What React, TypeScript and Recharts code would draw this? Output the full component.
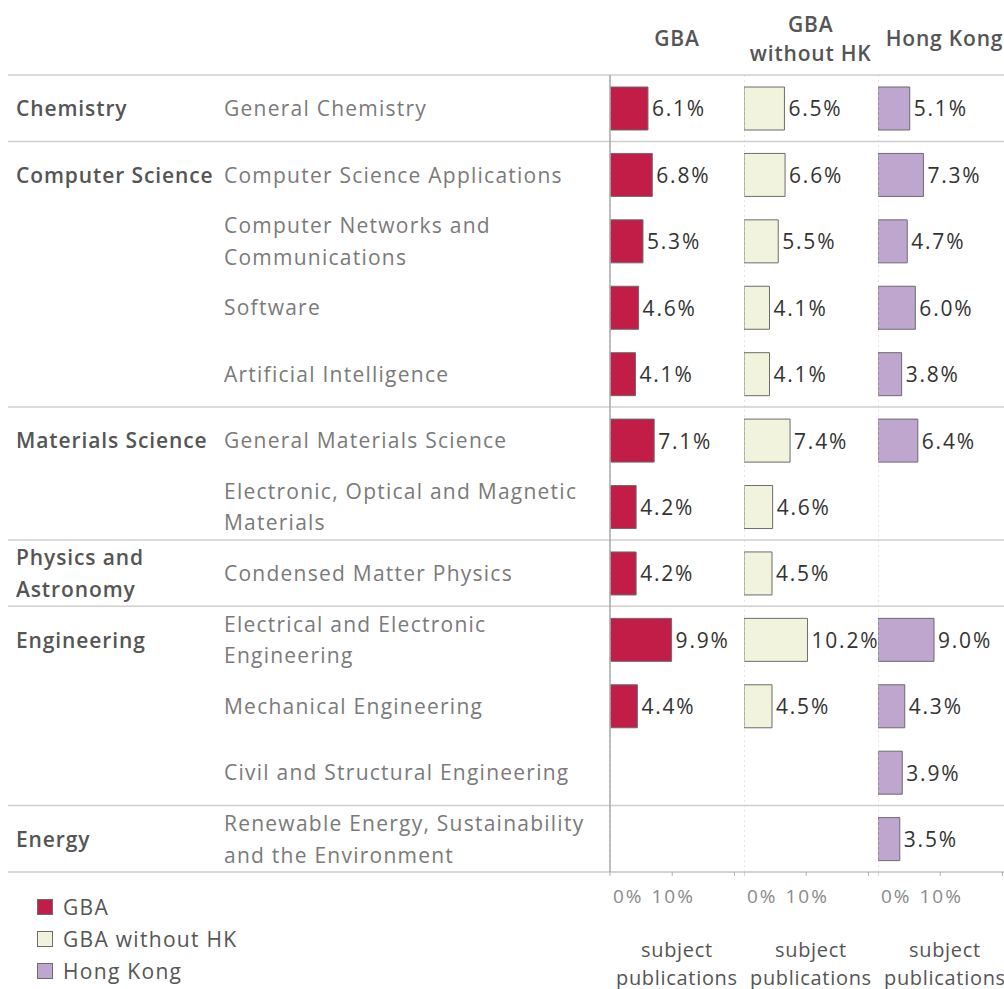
import React from "react";
import {
  BarChart,
  Bar,
  XAxis,
  YAxis,
  LabelList,
  ReferenceLine,
} from "recharts";

// categories (a "\n" marks where the label wraps)
const subjects = [
  "General Chemistry",
  "Computer Science Applications",
  "Computer Networks and\nCommunications",
  "Software",
  "Artificial Intelligence",
  "General Materials Science",
  "Electronic, Optical and Magnetic\nMaterials",
  "Condensed Matter Physics",
  "Electrical and Electronic\nEngineering",
  "Mechanical Engineering",
  "Civil and Structural Engineering",
  "Renewable Energy, Sustainability\nand the Environment",
];
const groups = [
  "Chemistry",
  "Computer Science",
  "Computer Science",
  "Computer Science",
  "Computer Science",
  "Materials Science",
  "Materials Science",
  "Physics and\nAstronomy",
  "Engineering",
  "Engineering",
  "Engineering",
  "Energy",
];

// share of subject publications, %
const gba = [6.1, 6.8, 5.3, 4.6, 4.1, 7.1, 4.2, 4.2, 9.9, 4.4, null, null];
const gbaWithoutHK = [6.5, 6.6, 5.5, 4.1, 4.1, 7.4, 4.6, 4.5, 10.2, 4.5, null, null];
const hongKong = [5.1, 7.3, 4.7, 6.0, 3.8, 6.4, null, null, 9.0, 4.3, 3.9, 3.5];

const seriesNames = ["GBA", "GBA without HK", "Hong Kong"];
const seriesKeys = ["gba", "gbaWithoutHK", "hongKong"];
const seriesColors = ["#C11D47", "#F1F3DC", "#BEA6CE"];
const xTicks = [0, 10, 20];
const headerLines = [["GBA"], ["GBA", "without HK"], ["Hong Kong"]];

const rows = subjects.map((s, i) => ({
  subject: s,
  group: groups[i],
  gba: gba[i],
  gbaWithoutHK: gbaWithoutHK[i],
  hongKong: hongKong[i],
}));

const FONT = "'Open Sans', sans-serif";
const TOP = 75;
const ROW_H = 66.42;
const PLOT_H = ROW_H * rows.length;
const LABEL_W = 610;
const PANEL_W = 133.8;
const TOTAL_H = 989;
const LINE_GAP = 31.5;

const fmt = (v: any) => (v == null ? "" : `${Number(v).toFixed(1)}%`);

const RowTick = (props: any) => {
  const { y, payload } = props;
  const idx = subjects.indexOf(payload.value);
  const first = idx === 0 || groups[idx - 1] !== groups[idx];
  const gLines = groups[idx].split("\n");
  const sLines = subjects[idx].split("\n");
  return (
    <g fontFamily={FONT} fontSize={21}>
      {first &&
        gLines.map((t, i) => (
          <text
            key={"g" + i}
            x={16}
            y={y + (i - (gLines.length - 1) / 2) * LINE_GAP}
            dominantBaseline="central"
            fontWeight={600}
            fill="#555"
            letterSpacing={0.9}
          >
            {t}
          </text>
        ))}
      {sLines.map((t, i) => (
        <text
          key={"s" + i}
          x={224}
          y={y + (i - (sLines.length - 1) / 2) * LINE_GAP}
          dominantBaseline="central"
          fill="#7a7a7a"
          letterSpacing={1.25}
        >
          {t}
        </text>
      ))}
    </g>
  );
};

const PctTick = (props: any) => {
  const { x, y, payload } = props;
  if (payload.value >= 20) return <g />;
  return (
    <text
      x={payload.value === 0 ? x + 3 : x + 1}
      y={y + 18}
      dominantBaseline="central"
      textAnchor={payload.value === 0 ? "start" : "middle"}
      fontSize={19}
      letterSpacing={2}
      fill="#8a8a8a"
      fontFamily={FONT}
    >
      {payload.value}%
    </text>
  );
};

const ValueLabel = (props: any) => {
  const { x, y, width, height, value } = props;
  if (value == null) return null;
  return (
    <text
      x={x + width + 4}
      y={y + height / 2}
      dominantBaseline="central"
      fontSize={21}
      letterSpacing={1.8}
      fill="#333"
      fontFamily={FONT}
    >
      {fmt(value)}
    </text>
  );
};

const AxisTitle = (props: any) => {
  const { viewBox } = props;
  const cx = viewBox.x + viewBox.width / 2;
  return (
    <g fontFamily={FONT} fontSize={20} fill="#555" textAnchor="middle" letterSpacing={0.7}>
      <text x={cx} y={950} dominantBaseline="central">subject</text>
      <text x={cx} y={978} dominantBaseline="central">publications</text>
    </g>
  );
};

const Panel = ({ k, i }: { k: string; i: number }) => {
  const first = i === 0;
  return (
    <BarChart
      width={first ? LABEL_W + PANEL_W : PANEL_W}
      height={TOTAL_H}
      data={rows}
      layout="vertical"
      margin={{ top: TOP, right: 0, bottom: 0, left: 0 }}
      style={{ overflow: "visible" }}
    >
      <XAxis
        type="number"
        domain={[0, 21.5]}
        ticks={xTicks}
        allowDataOverflow
        height={TOTAL_H - TOP - PLOT_H}
        tickSize={4}
        tickLine={{ stroke: "#b0b0b0" }}
        axisLine={{ stroke: "#cfcfcf", strokeWidth: 1.5 }}
        tick={<PctTick />}
        interval={0}
        label={{ content: <AxisTitle /> }}
      />
      <YAxis
        type="category"
        dataKey="subject"
        width={first ? LABEL_W : 0}
        hide={!first}
        tickLine={false}
        axisLine={{ stroke: "#aaa", strokeWidth: 1.5 }}
        tick={<RowTick />}
        interval={0}
      />
      <ReferenceLine x={0} stroke="#ccc" strokeDasharray="2 3" />
      <Bar
        dataKey={k}
        fill={seriesColors[i]}
        stroke="#6b6b6b"
        strokeWidth={1}
        barSize={43}
        isAnimationActive={false}
      >
        <LabelList dataKey={k} content={<ValueLabel />} />
      </Bar>
    </BarChart>
  );
};

export default function App() {
  // group separator lines sit where a new group starts
  const seps = [0];
  groups.forEach((g, i) => {
    if (i > 0 && groups[i - 1] !== g) seps.push(i);
  });
  seps.push(rows.length);

  return (
    <div
      style={{
        position: "absolute",
        left: 0,
        top: 0,
        width: 1004,
        height: TOTAL_H,
        overflow: "hidden",
        background: "#fff",
        fontFamily: FONT,
      }}
    >
      <svg
        width={1004}
        height={TOTAL_H}
        style={{ position: "absolute", left: 0, top: 0 }}
      >
        {seps.map((r) => (
          <line
            key={r}
            x1={8}
            x2={1004}
            y1={TOP + r * ROW_H}
            y2={TOP + r * ROW_H}
            stroke="#cfcfcf"
            strokeWidth={1.5}
          />
        ))}
        {headerLines.map((lines, i) =>
          lines.map((t, j) => (
            <text
              key={i + "-" + j}
              x={LABEL_W + PANEL_W * i + PANEL_W / 2}
              y={38 + (j - (lines.length - 1) / 2) * 29}
              textAnchor="middle"
              dominantBaseline="central"
              fontSize={21}
              fontWeight={600}
              letterSpacing={0.8}
              fill="#555"
            >
              {t}
            </text>
          ))
        )}
        {seriesNames.map((n, i) => (
          <g key={n}>
            <rect
              x={37.5}
              y={899.5 + i * 32}
              width={15}
              height={15}
              fill={seriesColors[i]}
              stroke="#6b6b6b"
            />
            <text
              x={63}
              y={907 + i * 32}
              dominantBaseline="central"
              fontSize={21}
              letterSpacing={1.3}
              fill="#555"
            >
              {n}
            </text>
          </g>
        ))}
      </svg>
      {seriesKeys.map((k, i) => (
        <div
          key={k}
          style={{
            position: "absolute",
            top: 0,
            left: i === 0 ? 0 : LABEL_W + PANEL_W * i,
          }}
        >
          <Panel k={k} i={i} />
        </div>
      ))}
    </div>
  );
}
